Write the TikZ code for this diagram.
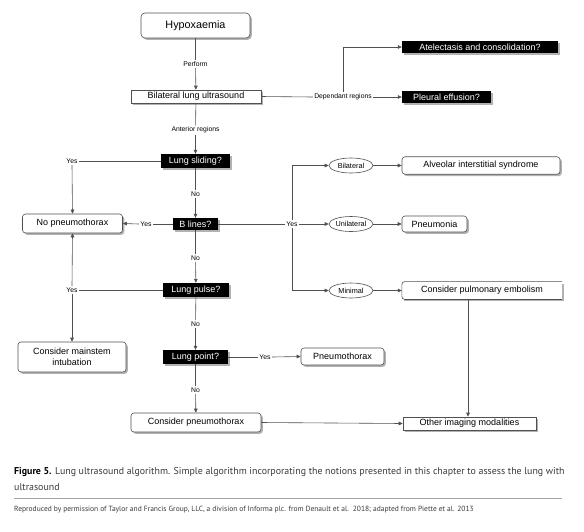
\documentclass[tikz,border=0pt]{standalone}
\usepackage{fontspec}
\setmainfont{Liberation Sans}
\newfontfamily\capfont{PT Sans}
\usetikzlibrary{arrows.meta,shapes.geometric,shadows}
\definecolor{ln}{HTML}{505050}
\definecolor{capgray}{HTML}{3A3A3A}
\begin{document}
\begin{tikzpicture}[x=1pt,y=-1pt,
  line/.style={draw=ln, line width=0.6pt},
  arr/.style={line, -{Triangle[length=4pt,width=3.6pt]}},
  shad/.style={drop shadow={shadow xshift=1.8pt,shadow yshift=-1.8pt,fill=black!30,opacity=1}},
  wbox/.style={draw=ln, fill=white, line width=0.6pt, rounded corners=3pt, shad,
    font=\fontsize{9}{10.5}\selectfont, inner sep=0pt, align=center},
  sbox/.style={wbox, rounded corners=0pt},
  bbox/.style={fill=black, text=white, shad, inner sep=0pt,
    font=\fontsize{9}{10.5}\selectfont},
  oval/.style={ellipse, draw=ln, fill=white, line width=0.6pt, minimum width=44pt,
    minimum height=15pt, inner sep=0pt, font=\fontsize{7.3}{8.5}\selectfont},
  lab/.style={fill=white, inner sep=1.2pt, font=\fontsize{6.8}{8}\selectfont},
  capt/.style={anchor=base west, inner sep=0pt, text=capgray}
]
\useasboundingbox (0,0) rectangle (584,531);
\fill[white] (0,0) rectangle (584,531);

% nodes
\node[wbox, rounded corners=4pt, minimum width=109pt, minimum height=25pt,
  font=\fontsize{10.8}{12}\selectfont] (hyp) at (195.5,25.5) {Hypoxaemia};
\node[sbox, minimum width=130pt, minimum height=13pt] (bil) at (196,96.5) {Bilateral lung ultrasound};
\node[bbox, minimum width=156pt, minimum height=12pt] (atel) at (480,47) {Atelectasis and consolidation?};
\node[bbox, minimum width=89pt, minimum height=12pt] (pe) at (446.5,97) {Pleural effusion?};
\node[bbox, minimum width=69pt, minimum height=14pt] (ls) at (195.5,161) {Lung sliding?};
\node[wbox, minimum width=100pt, minimum height=19pt] (np) at (72.5,223.5) {No pneumothorax};
\node[bbox, minimum width=45pt, minimum height=12pt] (bl) at (195.5,224) {B lines?};
\node[bbox, minimum width=66pt, minimum height=14pt] (lp) at (196,290) {Lung pulse?};
\node[wbox, minimum width=108pt, minimum height=30pt] (cmi) at (72,357) {Consider mainstem\\intubation};
\node[bbox, minimum width=65pt, minimum height=14pt] (lpt) at (195.5,357) {Lung point?};
\node[wbox, minimum width=83pt, minimum height=17pt] (pt) at (342.5,356.5) {Pneumothorax};
\node[wbox, minimum width=130pt, minimum height=19pt] (cpx) at (196,422.5) {Consider pneumothorax};
\node[sbox, minimum width=133pt, minimum height=13pt] (oim) at (469.5,423.5) {Other imaging modalities};
\node[oval] (bi) at (351,165.5) {Bilateral};
\node[oval] (uni) at (351,224) {Unilateral};
\node[oval] (mn) at (351,290.5) {Minimal};
\node[wbox, minimum width=158pt, minimum height=17.5pt] (ais) at (481,165.5) {Alveolar interstitial syndrome};
\node[wbox, minimum width=65pt, minimum height=16pt] (pn) at (434.5,224) {Pneumonia};
\node[fill=white, shad, inner sep=0pt, minimum width=160pt, minimum height=17.5pt,
  font=\fontsize{9}{10.5}\selectfont] (cpe) at (482,290.5) {Consider pulmonary embolism};
\draw[line, rounded corners=3pt] (cpe.north east) -- (cpe.north west) -- (cpe.south west) -- (cpe.south east);

% labels
\node[lab] (perf) at (195.5,64) {Perform};
\node[lab] (ant) at (195.5,130) {Anterior regions};
\node[lab] (dep) at (343,97) {Dependant regions};
\node[lab] (y1) at (72,161) {Yes};
\node[lab] (n1) at (195.5,194) {No};
\node[lab] (y2) at (146,224) {Yes};
\node[lab] (y3) at (292,224) {Yes};
\node[lab] (n2) at (195.5,258) {No};
\node[lab] (y4) at (72,290) {Yes};
\node[lab] (n3) at (195.5,324) {No};
\node[lab] (y5) at (265,357) {Yes};
\node[lab] (n4) at (195.5,390) {No};
\coordinate (cx) at (468,0);

% connectors
\draw[line] (hyp) -- (perf);
\draw[arr] (perf) -- (bil);
\draw[line] (bil) -- (ant);
\draw[arr] (ant) -- (ls);
\draw[line] (bil.east) -- (dep.west);
\draw[arr] (dep.east) -- (pe.west);
\draw[arr] (dep.north) |- (atel.west);
\draw[line] (ls.west) -- (y1.east);
\draw[arr] (y1.south) -- (np.north);
\draw[line] (ls) -- (n1);
\draw[arr] (n1) -- (bl);
\draw[line] (bl.west) -- (y2.east);
\draw[arr] (y2.west) -- (np.east);
\draw[line] (bl) -- (n2);
\draw[arr] (n2) -- (lp);
\draw[line] (bl.east) -- (y3.west);
\draw[arr] (y3.east) -- (uni.west);
\draw[arr] (y3.north) |- (bi.west);
\draw[arr] (y3.south) |- (mn.west);
\draw[arr] (bi) -- (ais);
\draw[arr] (uni) -- (pn);
\draw[arr] (mn) -- (cpe.west);
\draw[arr] (cpe.south -| cx) -- (oim.north -| cx);
\draw[line] (lp.west) -- (y4.east);
\draw[arr] (y4.north) -- (np.south);
\draw[arr] (y4.south) -- (cmi.north);
\draw[line] (lp) -- (n3);
\draw[arr] (n3) -- (lpt);
\draw[line] (lpt.east) -- (y5.west);
\draw[arr] (y5.east) -- (pt.west);
\draw[line] (lpt) -- (n4);
\draw[arr] (n4) -- (cpx);
\draw[arr] (cpx.east) -- (oim.west);

% caption
\node[capt, font=\capfont\fontsize{9.9}{11}\selectfont] (cap1) at (14,474)
  {\textcolor{black}{\bfseries Figure 5.} Lung ultrasound algorithm. Simple algorithm incorporating the notions presented in this chapter to assess the lung with};
\node[capt, font=\capfont\fontsize{9.9}{11}\selectfont] (cap2) at (14,490) {ultrasound};
\draw[black!35, line width=0.6pt] (14,498.5) -- (562,498.5);
\node[capt, font=\capfont\fontsize{7.5}{9}\selectfont] (cred) at (14,511)
  {Reproduced by permission of Taylor and Francis Group, LLC, a division of Informa plc. from Denault et al.\ \ 2018; adapted from Piette et al. 2013};
\end{tikzpicture}
\end{document}
